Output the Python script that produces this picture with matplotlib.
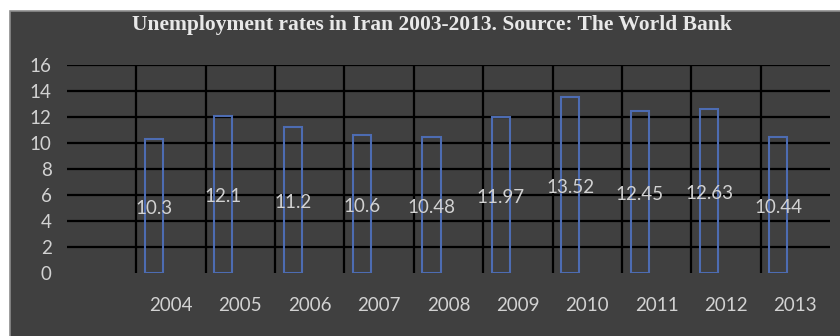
import matplotlib
matplotlib.use("Agg")
import matplotlib.pyplot as plt
from matplotlib.patches import Rectangle
import numpy as np

# Unemployment rate (%) by year
years = ["2004", "2005", "2006", "2007", "2008", "2009", "2010", "2011", "2012", "2013"]
rates = [10.3, 12.1, 11.2, 10.6, 10.48, 11.97, 13.52, 12.45, 12.63, 10.44]
rate_labels = ["10.3", "12.1", "11.2", "10.6", "10.48", "11.97", "13.52", "12.45", "12.63", "10.44"]
y_ticks = [0, 2, 4, 6, 8, 10, 12, 14, 16]

BG = "#404040"
TXT = "#d2d2d2"
BAR_EDGE = "#4d6cb2"

fig = plt.figure(figsize=(8.4, 3.36), dpi=100, facecolor="white")

# dark chart panel drawn in a background axes
bg_ax = fig.add_axes([0, 0, 1, 1], zorder=-1)
bg_ax.set_axis_off()
bg_ax.set_xlim(0, 840)
bg_ax.set_ylim(0, 336)
bg_ax.add_patch(Rectangle((10, -2), 832, 336 - 11 + 2, facecolor=BG,
                          edgecolor="#8c8c8c", linewidth=1.2))

ax = fig.add_axes([67 / 840, 63 / 336, 763 / 840, 208 / 336], zorder=1)
ax.set_facecolor("none")
for s in ax.spines.values():
    s.set_visible(False)

n_slots = len(years) + 1  # first category slot is left empty
ax.set_xlim(-0.5, n_slots - 0.5)
ax.set_ylim(0, 16)

# horizontal gridlines
for v in y_ticks[1:]:
    ax.axhline(v, color="black", lw=1.6, zorder=1)
# vertical category separators
for k in range(n_slots - 1):
    ax.plot([k + 0.5, k + 0.5], [0, 16], color="black", lw=1.6, zorder=1)

x = np.arange(1, n_slots)
bar_offset = -0.245
bar_w = 0.26
ax.bar(x + bar_offset, rates, width=bar_w, facecolor="none", edgecolor=BAR_EDGE,
       linewidth=1.5, zorder=2)

for xi, r, lab in zip(x, rates, rate_labels):
    ax.text(xi + bar_offset, r / 2 - 0.2, lab, ha="center", va="center",
            color=TXT, fontsize=13.5, family="Lato", zorder=3)

ax.set_yticks(y_ticks)
ax.set_yticklabels([str(v) for v in y_ticks], family="Lato", fontsize=13.5, color=TXT)
ax.set_xticks(x)
ax.set_xticklabels(years, family="Lato", fontsize=13.5, color=TXT)
ax.tick_params(axis="y", length=0, pad=11)
ax.tick_params(axis="x", length=0, pad=17)

fig.text(432 / 840, 1 - 25 / 336, "Unemployment rates in Iran 2003-2013. Source: The World Bank",
         ha="center", va="center", color="#e8e8e8", fontsize=15.5, fontweight="bold",
         family="Liberation Serif")

fig.savefig("out.png", dpi=100, facecolor="white")
